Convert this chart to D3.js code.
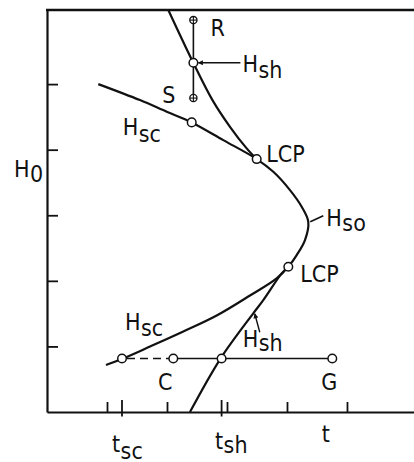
<!DOCTYPE html>
<html>
<head>
<meta charset="utf-8">
<script src="https://cdn.jsdelivr.net/npm/d3@7"></script>
<style>
  html, body { margin: 0; padding: 0; background: #fff; }
  svg { display: block; }
  .lbl { font-family: "DejaVu Sans Condensed", "DejaVu Sans", sans-serif; font-stretch: condensed; font-size: 23px; fill: #111; }
</style>
</head>
<body>
<div id="chart"></div>
<script>
// Phase diagram sketch: critical fields H_sc, H_sh, H_so versus temperature t.

// Axis tick values (unlabelled)
const tTicks = [1, 2, 3, 4, 5];
const hTicks = [1, 2, 3, 4, 5];

// Marked temperatures and the constant-field cut
const tSc = 1.25;
const tSh = 2.91;
const hCut = 0.815;
const tC = 2.105;
const tG = 4.755;

// Vertical cut at constant temperature: R (top), H_sh crossing, S (bottom)
const tVert = 2.44;
const hR = 5.976;
const hShTop = 5.325;
const hS = 4.787;

// Continuous H_sc / H_so / H_sc boundary, from upper left round the nose to lower left
const hscUpper = [
  [0.855, 5.00], [1.55, 4.756], [1.995, 4.578], [2.412, 4.416], [2.938, 4.146], [3.495, 3.857]
];
const hso = [
  [3.495, 3.857], [3.772, 3.663], [4.05, 3.384], [4.245, 3.13], [4.355, 2.901],
  [4.30, 2.622], [4.162, 2.393], [4.022, 2.215]
];
const hscLower = [
  [4.022, 2.215], [3.828, 2.038], [3.383, 1.776], [2.828, 1.471], [2.272, 1.227],
  [1.717, 0.998], [1.245, 0.808], [0.983, 0.716]
];

// H_sh branches: upper one meets the boundary at the upper LCP, lower one at the lower LCP
const hshUpper = [
  [2.022, 6.13], [2.438, 5.325], [2.758, 4.756], [3.05, 4.349], [3.328, 4.02], [3.495, 3.857]
];
const hshLower = [
  [4.022, 2.215], [3.912, 2.114], [3.605, 1.707], [3.438, 1.505], [2.895, 0.819], [2.383, 0.0]
];

// Points marked on the boundary
const lcpUpper = [3.495, 3.857];
const lcpLower = [4.022, 2.215];
const hscMark = [2.412, 4.416];
const hsoNose = [4.355, 2.901];
const hshLowerMark = [3.438, 1.505];

const W = 414, H = 462;
const x = d3.scaleLinear().domain([0, 6.117]).range([47, 414]);
const y = d3.scaleLinear().domain([0, 6.13]).range([412, 10]);

const svg = d3.select("#chart").append("svg").attr("width", W).attr("height", H);

const ink = "#111";

// Frame: left axis, bottom axis, top border
const gLeft = svg.append("g").attr("transform", `translate(${x(0)},0)`)
  .call(d3.axisRight(y).tickValues(hTicks).tickSize(11).tickSizeOuter(0).tickFormat(""));
const gBottom = svg.append("g").attr("transform", `translate(0,${y(0)})`)
  .call(d3.axisTop(x).tickValues(tTicks).tickSize(10).tickSizeOuter(0).tickFormat(""));
[gLeft, gBottom].forEach(g => {
  g.select(".domain").attr("stroke", ink).attr("stroke-width", 2.2);
  g.selectAll(".tick line").attr("stroke", ink).attr("stroke-width", 1.8);
});
svg.append("line")
  .attr("x1", x(0) - 1).attr("x2", x(6.117))
  .attr("y1", y(6.13)).attr("y2", y(6.13))
  .attr("stroke", ink).attr("stroke-width", 2.4);

// Marked temperatures cross the axis
[tSc, tSh].forEach(t => {
  svg.append("line")
    .attr("x1", x(t)).attr("x2", x(t))
    .attr("y1", y(0) - 12).attr("y2", y(0) + 4.5)
    .attr("stroke", ink).attr("stroke-width", 1.8);
});

// Curves
const line = d3.line().x(d => x(d[0])).y(d => y(d[1])).curve(d3.curveCatmullRom.alpha(0.5));
const boundary = hscUpper.concat(hso.slice(1), hscLower.slice(1));
svg.append("path").datum(boundary).attr("d", line)
  .attr("fill", "none").attr("stroke", ink).attr("stroke-width", 2.2);
[hshUpper, hshLower].forEach(pts => {
  svg.append("path").datum(pts).attr("d", line)
    .attr("fill", "none").attr("stroke", ink).attr("stroke-width", 2.2);
});

// Constant-field cut: dashed from t_sc to C, solid from C to G
svg.append("line")
  .attr("x1", x(tSc)).attr("x2", x(tC)).attr("y1", y(hCut)).attr("y2", y(hCut))
  .attr("stroke", ink).attr("stroke-width", 1.6).attr("stroke-dasharray", "8,5")
  .attr("stroke-dashoffset", -5);
svg.append("line")
  .attr("x1", x(tC)).attr("x2", x(tG)).attr("y1", y(hCut)).attr("y2", y(hCut))
  .attr("stroke", ink).attr("stroke-width", 1.6);

// Constant-temperature cut from R to S
svg.append("line")
  .attr("x1", x(tVert)).attr("x2", x(tVert)).attr("y1", y(hR)).attr("y2", y(hS))
  .attr("stroke", ink).attr("stroke-width", 1.6);

// Open circles
const openPts = [lcpUpper, lcpLower, hscMark, [tVert, hShTop], [tSc, hCut], [tC, hCut], [tSh, hCut], [tG, hCut]];
svg.append("g").selectAll("circle").data(openPts).join("circle")
  .attr("cx", d => x(d[0])).attr("cy", d => y(d[1])).attr("r", 4.3)
  .attr("fill", "#fff").attr("stroke", ink).attr("stroke-width", 1.5);

// Crossed circles for R and S
[[tVert, hR], [tVert, hS]].forEach(d => {
  const cx = x(d[0]), cy = y(d[1]);
  const g = svg.append("g");
  g.append("circle").attr("cx", cx).attr("cy", cy).attr("r", 3.6)
    .attr("fill", "#fff").attr("stroke", ink).attr("stroke-width", 1.3);
  g.append("line").attr("x1", cx - 3.6).attr("x2", cx + 3.6).attr("y1", cy).attr("y2", cy)
    .attr("stroke", ink).attr("stroke-width", 1.1);
  g.append("line").attr("x1", cx).attr("x2", cx).attr("y1", cy - 3.6).attr("y2", cy + 3.6)
    .attr("stroke", ink).attr("stroke-width", 1.1);
});

// Arrow heads
svg.append("defs").append("marker")
  .attr("id", "head").attr("viewBox", "0 0 10 10").attr("refX", 9).attr("refY", 5)
  .attr("markerWidth", 7).attr("markerHeight", 5).attr("markerUnits", "userSpaceOnUse")
  .attr("orient", "auto")
  .append("path").attr("d", "M0,0 L10,5 L0,10 Z").attr("fill", ink);

// Pointer to the H_sh crossing on the vertical cut
const pTop = [x(tVert), y(hShTop)];
svg.append("line")
  .attr("x1", pTop[0] + 47).attr("y1", pTop[1]).attr("x2", pTop[0] + 5).attr("y2", pTop[1])
  .attr("stroke", ink).attr("stroke-width", 1.6).attr("marker-end", "url(#head)");

// Pointer to the lower H_sh branch
const pLow = [x(hshLowerMark[0]), y(hshLowerMark[1])];
svg.append("line")
  .attr("x1", pLow[0] + 6.5).attr("y1", pLow[1] + 19).attr("x2", pLow[0] + 1.5).attr("y2", pLow[1] + 0.5)
  .attr("stroke", ink).attr("stroke-width", 1.4).attr("marker-end", "url(#head)");

// Leader to the nose of H_so
const pNose = [x(hsoNose[0]), y(hsoNose[1])];
svg.append("line")
  .attr("x1", pNose[0] + 2).attr("y1", pNose[1]).attr("x2", pNose[0] + 15).attr("y2", pNose[1] - 6)
  .attr("stroke", ink).attr("stroke-width", 1.6);

// Labels
function label(px, py, main, sub, anchor, subDy) {
  const t = svg.append("text").attr("class", "lbl").attr("x", px).attr("y", py)
    .attr("text-anchor", anchor || "start");
  t.append("tspan").text(main);
  if (sub) t.append("tspan").attr("dy", subDy == null ? 6 : subDy).attr("dx", 0.5).text(sub);
  return t;
}

label(x(tVert) + 17, y(hR) + 16, "R");
label(pTop[0] + 49, pTop[1] + 9.5, "H", "sh", "start", 6);
label(x(tVert) - 18, y(hS) + 5, "S", null, "end");
label(x(hscMark[0]) - 69, y(hscMark[1]) + 13, "H", "sc", "start", 6.5);
label(x(lcpUpper[0]) + 9.5, y(lcpUpper[1]) + 3, "LCP");
label(pNose[0] + 18, pNose[1] + 4, "H", "so", "start", 5);
label(x(lcpLower[0]) + 12, y(lcpLower[1]) + 15, "LCP");
label(x(tSc) + 3, y(hCut) - 29, "H", "sc", "start", 6.5);
label(pLow[0] - 10.6, pLow[1] + 34, "H", "sh", "start", 4);
label(x(tC) - 8, y(hCut) + 31, "C", null, "middle");
label(x(tG) - 3, y(hCut) + 31, "G", null, "middle");
label(x(tSc) - 10, y(0) + 40, "t", "sc", "start", 6.5);
label(x(tSh) - 6.6, y(0) + 37, "t", "sh", "start", 4);
label(x(4.58), y(0) + 30, "t");
label(x(0) - 33, y(3.58), "H", "0", "start", 5);
</script>
</body>
</html>
